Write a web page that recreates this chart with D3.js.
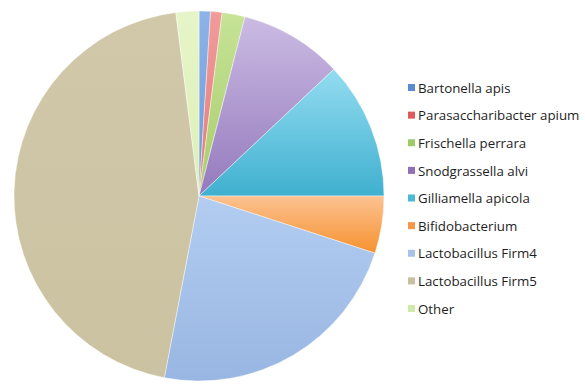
<!doctype html>
<html lang="en">
<head>
<meta charset="utf-8">
<style>
  body, html { margin:0; padding:0; background:white; overflow:hidden; }
  svg { position:absolute; top:0; left:0; }
</style>
</head>
<body>
<div id="chart"></div>
<script src="https://cdn.jsdelivr.net/npm/d3@7"></script>
<script>

// slices, clockwise from 12 o'clock (percent)
const labels = ["Bartonella apis", "Parasaccharibacter apium", "Frischella perrara",
  "Snodgrassella alvi", "Gilliamella apicola", "Bifidobacterium",
  "Lactobacillus Firm4", "Lactobacillus Firm5", "Other"];
const values = [1, 1, 2, 9, 12, 5, 23, 45, 2];

// gradient top / bottom per slice, and legend swatch colour
const topColors = ["#8db3e8", "#f29b9b", "#c6e396", "#cbbbe3", "#94dcf1", "#fcc291", "#b3cdf1", "#d0c8a9", "#e6f5c8"];
const botColors = ["#6a98d8", "#e27a7a", "#a8cc6c", "#9479bd", "#3fb0cf", "#f6922f", "#98b6e2", "#cbc2a1", "#dcefb7"];
const swatch = ["#5a8ad2", "#e05a5a", "#9fcb66", "#8d70b6", "#4bb8d8", "#f79646", "#a8c2ea", "#c8c0a0", "#cfeaa6"];

const W = 585, H = 384;
const cx = 199, cy = 196, R = 185;

const svg = d3.select("#chart").append("svg")
  .attr("width", W).attr("height", H);

const defs = svg.append("defs");
labels.forEach((l, i) => {
  const g = defs.append("linearGradient")
    .attr("id", "g" + i)
    .attr("x1", 0).attr("y1", 0).attr("x2", 0).attr("y2", 1);
  g.append("stop").attr("offset", "0%").attr("stop-color", topColors[i]);
  g.append("stop").attr("offset", "100%").attr("stop-color", botColors[i]);
});

const pie = d3.pie().sort(null).value(d => d)(values);
const arc = d3.arc().innerRadius(0).outerRadius(R);

svg.append("g")
  .attr("transform", `translate(${cx},${cy})`)
  .selectAll("path")
  .data(pie)
  .enter().append("path")
  .attr("d", arc)
  .attr("fill", (d, i) => `url(#g${i})`)
  .attr("stroke", "rgba(255,255,255,0.6)")
  .attr("stroke-width", 0.7);

// legend
const y = d3.scalePoint().domain(labels).range([88, 309]);
const lg = svg.append("g").selectAll("g")
  .data(labels).enter().append("g")
  .attr("transform", d => `translate(408,${y(d)})`);

lg.append("rect")
  .attr("x", 0).attr("y", -4)
  .attr("width", 7).attr("height", 7)
  .attr("fill", (d, i) => swatch[i]);

lg.append("text")
  .attr("x", 10).attr("y", 0)
  .attr("dy", "0.35em")
  .style("font-family", "'Open Sans', sans-serif")
  .style("font-size", "13.3px")
  .style("fill", "#1e1e1e")
  .text(d => d);

</script>
</body>
</html>
